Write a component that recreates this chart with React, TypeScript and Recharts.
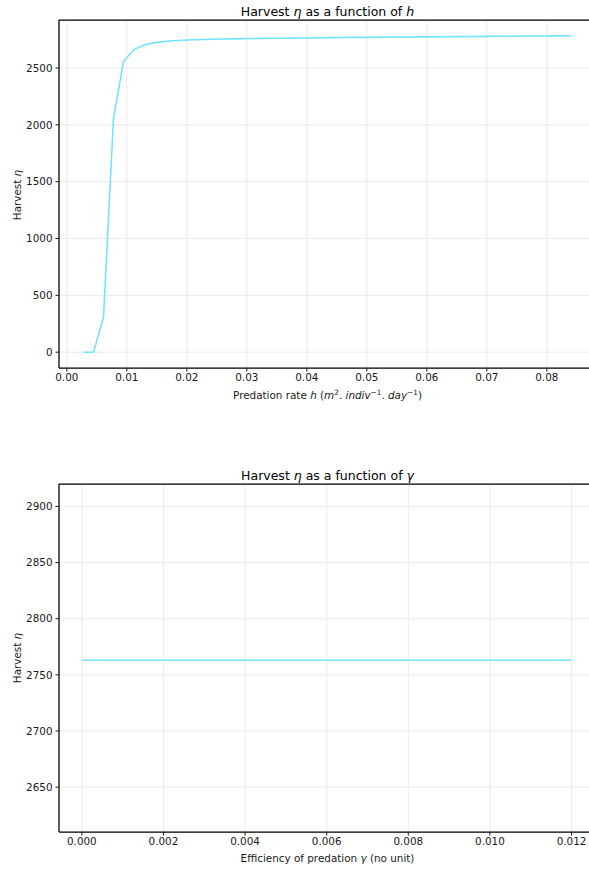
import { LineChart, Line, XAxis, YAxis, CartesianGrid, ReferenceLine } from 'recharts';

// predation rate h and the harvest
const H_VALUES = [
  0.0028, 0.00446, 0.00612, 0.00778, 0.00944, 0.0111, 0.01276, 0.01442, 0.01608, 0.01774,
  0.0194, 0.02106, 0.02272, 0.02438, 0.02604, 0.0277, 0.02936, 0.03102, 0.03268, 0.03434,
  0.036, 0.03766, 0.03932, 0.04098, 0.04264, 0.0443, 0.04596, 0.04762, 0.04928, 0.05094,
  0.0526, 0.05426, 0.05592, 0.05758, 0.05924, 0.0609, 0.06256, 0.06422, 0.06588, 0.06754,
  0.0692, 0.07086, 0.07252, 0.07418, 0.07584, 0.0775, 0.07916, 0.08082, 0.08248, 0.08414,
];
const HARVEST_H = [
  0, 0, 310, 2055, 2555, 2660, 2700, 2721, 2732, 2739,
  2744, 2748, 2751, 2753, 2755, 2756, 2758, 2759, 2760, 2761,
  2762, 2763, 2764, 2765, 2766, 2767, 2768, 2769, 2769, 2770,
  2771, 2772, 2772, 2773, 2774, 2774, 2775, 2776, 2776, 2777,
  2778, 2778, 2779, 2779, 2780, 2781, 2781, 2782, 2782, 2783,
];

// efficiency gamma and the (flat) harvest of the bottom panel
const GAMMA_VALUES = [0, 0.001, 0.002, 0.003, 0.004, 0.005, 0.006, 0.007, 0.008, 0.009, 0.01, 0.011, 0.012];
const HARVEST_GAMMA = [2763, 2763, 2763, 2763, 2763, 2763, 2763, 2763, 2763, 2763, 2763, 2763, 2763];

const H_TICKS = [0, 0.01, 0.02, 0.03, 0.04, 0.05, 0.06, 0.07, 0.08];
const H_Y_TICKS = [0, 500, 1000, 1500, 2000, 2500];
const GAMMA_TICKS = [0, 0.002, 0.004, 0.006, 0.008, 0.01, 0.012];
const GAMMA_Y_TICKS = [2650, 2700, 2750, 2800, 2850, 2900];

const FONT = '"DejaVu Sans", sans-serif';
const LINE = '#72e4fd';
const GRID = '#e6e6e6';
const INK = '#1a1a1a';

const tickStyle = { fill: INK, fontSize: 10.4, fontFamily: FONT };

function Panel({ data, xDomain, yDomain, xTicks, yTicks, xFmt }: any) {
  return (
    <LineChart width={620} height={400} data={data} margin={{ top: 20, right: 24, left: 0, bottom: 0 }}>
      <CartesianGrid stroke={GRID} strokeWidth={0.8} />
      <XAxis
        dataKey="x" type="number" domain={xDomain} ticks={xTicks} allowDataOverflow
        tickFormatter={xFmt} height={32} tick={tickStyle}
        axisLine={{ stroke: '#000', strokeWidth: 1.25 }} tickLine={{ stroke: INK }} tickSize={3.5} tickMargin={2}
      />
      <YAxis
        type="number" domain={yDomain} ticks={yTicks} allowDataOverflow width={59} tick={tickStyle}
        axisLine={{ stroke: '#000', strokeWidth: 1.25 }} tickLine={{ stroke: INK }} tickSize={3.5} tickMargin={3}
      />
      {/* top spine */}
      <ReferenceLine y={yDomain[1]} stroke="#000" strokeWidth={1.25} />
      <Line dataKey="y" stroke={LINE} strokeWidth={1.6} dot={false} isAnimationActive={false} />
    </LineChart>
  );
}

export default function App() {
  const hData = H_VALUES.map((x, i) => ({ x, y: HARVEST_H[i] }));
  const gData = GAMMA_VALUES.map((x, i) => ({ x, y: HARVEST_GAMMA[i] }));

  return (
    <div style={{ position: 'absolute', left: 0, top: 0, width: 589, height: 869, overflow: 'hidden', background: '#fff', fontFamily: FONT }}>
      <div style={{ position: 'absolute', left: 0, top: 0 }}>
        <Panel data={hData} xDomain={[-0.0013, 0.0882]} yDomain={[-139, 2922]} xTicks={H_TICKS} yTicks={H_Y_TICKS}
          xFmt={(v: number) => v.toFixed(2)} />
      </div>
      <div style={{ position: 'absolute', left: 0, top: 464 }}>
        <Panel data={gData} xDomain={[-0.00056, 0.0126]} yDomain={[2610, 2920]} xTicks={GAMMA_TICKS} yTicks={GAMMA_Y_TICKS}
          xFmt={(v: number) => v.toFixed(3)} />
      </div>
      <svg width={589} height={869} style={{ position: 'absolute', left: 0, top: 0, pointerEvents: 'none' }} fontFamily={FONT}>
        <text x={327.5} y={16} fontSize={12.5} textAnchor="middle" fill="#000">
          Harvest <tspan fontStyle="italic">η</tspan> as a function of <tspan fontStyle="italic">h</tspan>
        </text>
        <text x={327.5} y={480} fontSize={12.5} textAnchor="middle" fill="#000">
          Harvest <tspan fontStyle="italic">η</tspan> as a function of <tspan fontStyle="italic">γ</tspan>
        </text>
        <text x={327.5} y={399} fontSize={10.4} textAnchor="middle" fill={INK} xmlSpace="preserve">
          Predation rate <tspan fontStyle="italic">h</tspan> (<tspan fontStyle="italic">m</tspan>
          <tspan fontSize={7.3} dy={-4}>2</tspan>
          <tspan dy={4}>. </tspan><tspan fontStyle="italic">indiv</tspan>
          <tspan fontSize={7.3} dy={-4}>−1</tspan>
          <tspan dy={4}>. </tspan><tspan fontStyle="italic">day</tspan>
          <tspan fontSize={7.3} dy={-4}>−1</tspan>
          <tspan dy={4}>)</tspan>
        </text>
        <text x={327.5} y={862} fontSize={10.4} textAnchor="middle" fill={INK}>
          Efficiency of predation <tspan fontStyle="italic">γ</tspan> (no unit)
        </text>
        <text transform="translate(21,195) rotate(-90)" fontSize={10.4} textAnchor="middle" fill={INK}>
          Harvest <tspan fontStyle="italic">η</tspan>
        </text>
        <text transform="translate(21,658) rotate(-90)" fontSize={10.4} textAnchor="middle" fill={INK}>
          Harvest <tspan fontStyle="italic">η</tspan>
        </text>
      </svg>
    </div>
  );
}
